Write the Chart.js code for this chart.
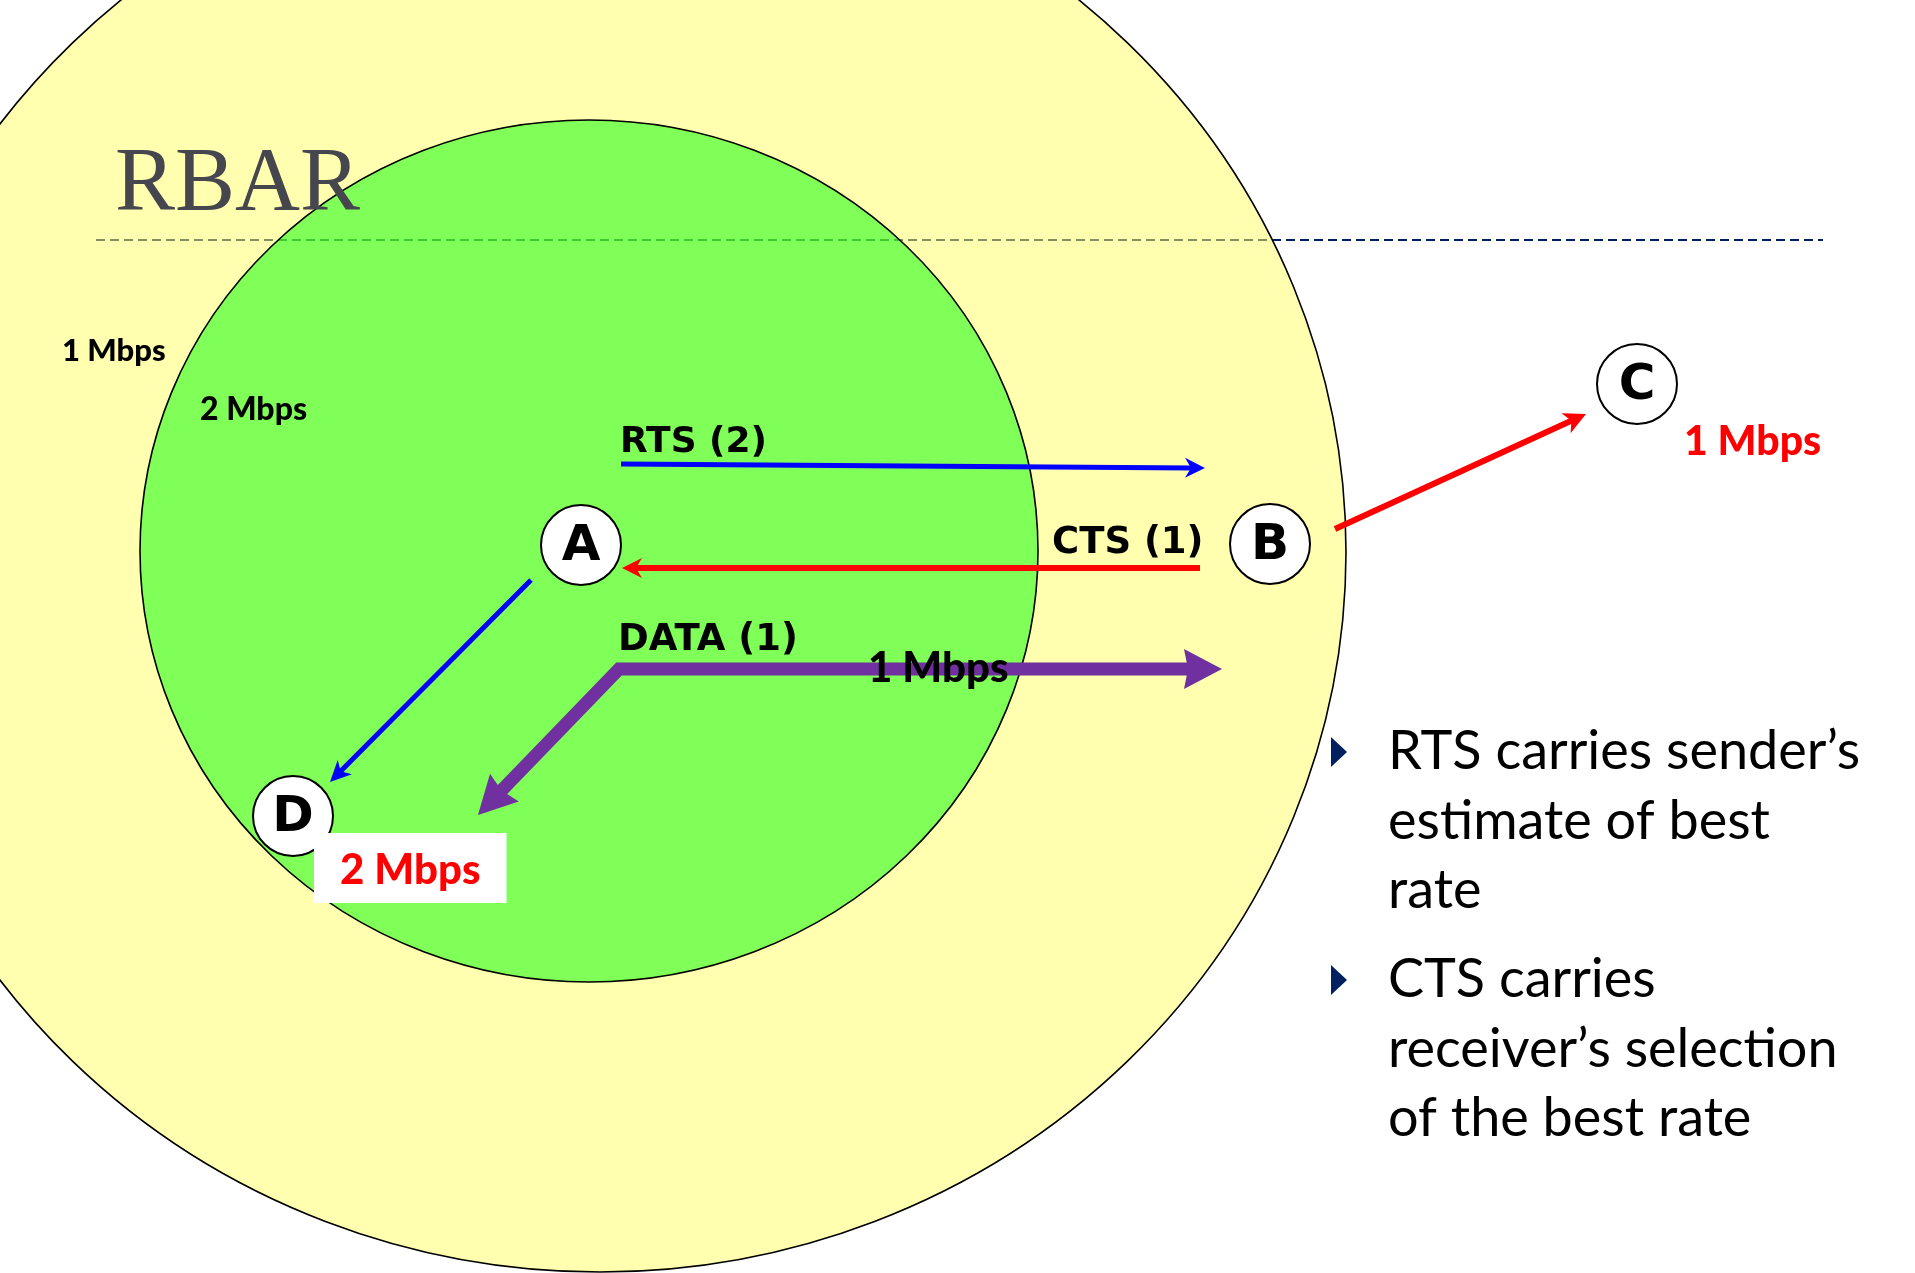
<!DOCTYPE html>
<html lang="en">
<head>
    <meta charset="UTF-8">
    <title>RBAR</title>
    <script src="https://cdn.jsdelivr.net/npm/chart.js"></script>
    <style>
        html, body { margin: 0; padding: 0; background: #fff; }
        #wrap { width: 1915px; height: 1273px; }
    </style>
</head>
<body>
<div id="wrap"><canvas id="rbarChart" width="1915" height="1273"></canvas></div>

<script>
    // ---- diagram data (units: 0..1915 across, 0..1273 down) ----
    const nodeNames = ['A', 'B', 'C', 'D'];
    const nodeX = [581, 1270, 1637, 293];
    const nodeY = [545, 544, 384, 816];

    // transmission ranges: [0] = 1 Mbps (outer), [1] = 2 Mbps (inner)
    const rangeCx = [600, 589];
    const rangeCy = [552, 551];
    const rangeRx = [746, 449];
    const rangeRy = [720, 431];

    // frames between nodes (first point -> tip)
    const rtsX = [621, 1205],  rtsY = [464, 468];
    const ctsX = [1200, 622],  ctsY = [568, 568];
    const adX = [531, 330],    adY = [580, 782];
    const bcX = [1335, 1586],  bcY = [529, 414];
    const dataX = [1222, 619, 478], dataY = [669, 669, 815];

    // annotations: text, left x, baseline y
    const labelText = ['1 Mbps', '2 Mbps', 'RTS (2)', 'CTS (1)', 'DATA (1)', '1 Mbps', '1 Mbps', '2 Mbps'];
    const labelX = [62, 200, 620, 1052, 618, 868, 1684, 340];
    const labelY = [361, 420, 452, 553, 650, 682, 455, 884];

    const titleText = 'RBAR';
    const dividerX = [96, 1823];
    const dividerY = 240;

    const bullets = [
        ['RTS carries sender\u2019s', 'estimate of best', 'rate'],
        ['CTS carries', 'receiver\u2019s selection', 'of the best rate']
    ];
    const bulletTop = [769, 997];

    // ---- styles ----
    const arrows = [
        { x: rtsX, y: rtsY, color: '#0000ff', width: 5, head: [20, 10, 6] },
        { x: ctsX, y: ctsY, color: '#ff0000', width: 6, head: [20, 10, 6] },
        { x: adX, y: adY, color: '#0000ff', width: 5, head: [21, 10, 6] },
        { x: bcX, y: bcY, color: '#ff0000', width: 6, head: [22, 11, 6] },
        { x: dataX, y: dataY, color: '#7030a0', width: 13, head: [38, 20, 4], both: true }
    ];
    const labelFont = [
        '900 31px Lato', '900 32px Lato',
        'bold 36px "DejaVu Sans"', 'bold 37px "DejaVu Sans"', 'bold 37px "DejaVu Sans"',
        '900 42px Lato', '900 41px Lato', '900 42px Lato'
    ];
    const labelColor = ['#000', '#000', '#000', '#000', '#000', '#000', '#ff0000', '#ff0000'];
    const rangeFill = ['rgba(255,255,95,0.5)', 'rgba(0,255,0,0.5)'];

    function headAt(ctx, tx, ty, fx, fy, head) {
        // arrow head with tip (tx,ty) coming from (fx,fy)
        const [len, half, notch] = head;
        const a = Math.atan2(ty - fy, tx - fx);
        const c = Math.cos(a), s = Math.sin(a);
        ctx.beginPath();
        ctx.moveTo(tx, ty);
        ctx.lineTo(tx - len * c - half * s, ty - len * s + half * c);
        ctx.lineTo(tx - (len - notch) * c, ty - (len - notch) * s);
        ctx.lineTo(tx - len * c + half * s, ty - len * s - half * c);
        ctx.closePath();
        ctx.fill();
    }

    function trim(tx, ty, fx, fy, d) {
        const a = Math.atan2(ty - fy, tx - fx);
        return [tx - d * Math.cos(a), ty - d * Math.sin(a)];
    }

    // ellipses + divider + title under the nodes
    const backdropPlugin = {
        id: 'backdrop',
        beforeDatasetsDraw(chart) {
            const ctx = chart.ctx;
            const xs = chart.scales.x, ys = chart.scales.y;
            ctx.save();

            // dashed rule under the title
            ctx.strokeStyle = '#002060';
            ctx.lineWidth = 2;
            ctx.setLineDash([9, 5]);
            ctx.beginPath();
            ctx.moveTo(xs.getPixelForValue(dividerX[0]), ys.getPixelForValue(dividerY));
            ctx.lineTo(xs.getPixelForValue(dividerX[1]), ys.getPixelForValue(dividerY));
            ctx.stroke();
            ctx.setLineDash([]);

            // range ellipses
            for (let i = 0; i < rangeCx.length; i++) {
                const cx = xs.getPixelForValue(rangeCx[i]);
                const cy = ys.getPixelForValue(rangeCy[i]);
                const rx = Math.abs(xs.getPixelForValue(rangeCx[i] + rangeRx[i]) - cx);
                const ry = Math.abs(ys.getPixelForValue(rangeCy[i] + rangeRy[i]) - cy);
                ctx.beginPath();
                ctx.ellipse(cx, cy, rx, ry, 0, 0, Math.PI * 2);
                ctx.fillStyle = rangeFill[i];
                ctx.fill();
                ctx.strokeStyle = '#000';
                ctx.lineWidth = 1.6;
                ctx.stroke();
            }

            // title
            ctx.fillStyle = '#46464f';
            ctx.font = '90px "Liberation Serif"';
            ctx.textBaseline = 'alphabetic';
            ctx.textAlign = 'left';
            ctx.fillText(titleText, 115, 210);
            ctx.restore();
        }
    };

    // arrows, labels and bullet text on top
    const overlayPlugin = {
        id: 'overlay',
        afterDatasetsDraw(chart) {
            const ctx = chart.ctx;
            const xs = chart.scales.x, ys = chart.scales.y;
            ctx.save();

            // node letters
            ctx.fillStyle = '#000';
            ctx.font = 'bold 50px "DejaVu Sans"';
            ctx.textAlign = 'center';
            ctx.textBaseline = 'middle';
            nodeNames.forEach((n, i) => {
                ctx.fillText(n, xs.getPixelForValue(nodeX[i]), ys.getPixelForValue(nodeY[i]) + 2);
            });

            // arrows
            arrows.forEach(ar => {
                const pts = ar.x.map((v, i) => [xs.getPixelForValue(v), ys.getPixelForValue(ar.y[i])]);
                const n = pts.length;
                const cut = ar.head[0] * 0.6;
                const end = trim(pts[n - 1][0], pts[n - 1][1], pts[n - 2][0], pts[n - 2][1], cut);
                const start = ar.both ? trim(pts[0][0], pts[0][1], pts[1][0], pts[1][1], cut) : pts[0];
                ctx.strokeStyle = ar.color;
                ctx.fillStyle = ar.color;
                ctx.lineWidth = ar.width;
                ctx.lineJoin = 'miter';
                ctx.lineCap = 'butt';
                ctx.beginPath();
                ctx.moveTo(start[0], start[1]);
                for (let i = 1; i < n - 1; i++) ctx.lineTo(pts[i][0], pts[i][1]);
                ctx.lineTo(end[0], end[1]);
                ctx.stroke();
                headAt(ctx, pts[n - 1][0], pts[n - 1][1], pts[n - 2][0], pts[n - 2][1], ar.head);
                if (ar.both) headAt(ctx, pts[0][0], pts[0][1], pts[1][0], pts[1][1], ar.head);
            });

            // labels
            ctx.textAlign = 'left';
            ctx.textBaseline = 'alphabetic';
            labelText.forEach((t, i) => {
                const x = xs.getPixelForValue(labelX[i]);
                const y = ys.getPixelForValue(labelY[i]);
                ctx.font = labelFont[i];
                if (i === labelText.length - 1) {
                    // white tag behind D's rate
                    const w = ctx.measureText(t).width;
                    ctx.fillStyle = '#fff';
                    ctx.fillRect(x - 26, y - 51, w + 52, 70);
                }
                ctx.fillStyle = labelColor[i];
                ctx.fillText(t, x, y);
            });

            // bullet list
            ctx.font = '54px Lato';
            bullets.forEach((lines, b) => {
                const top = bulletTop[b];
                ctx.fillStyle = '#002060';
                ctx.beginPath();
                ctx.moveTo(1331, top - 32);
                ctx.lineTo(1347, top - 17);
                ctx.lineTo(1331, top - 2);
                ctx.closePath();
                ctx.fill();
                ctx.fillStyle = '#000';
                lines.forEach((ln, k) => ctx.fillText(ln, 1388, top + k * 69.5));
            });
            ctx.restore();
        }
    };

    const ctx = document.getElementById('rbarChart').getContext('2d');
    const rbarChart = new Chart(ctx, {
        type: 'scatter',
        data: {
            datasets: [{
                label: 'nodes',
                data: nodeNames.map((n, i) => ({ x: nodeX[i], y: nodeY[i] })),
                pointRadius: 40,
                pointHoverRadius: 40,
                pointBackgroundColor: '#ffffff',
                pointBorderColor: '#000000',
                pointBorderWidth: 2
            }]
        },
        options: {
            responsive: false,
            animation: false,
            events: [],
            layout: { padding: 0, autoPadding: false },
            plugins: {
                legend: { display: false },
                tooltip: { enabled: false }
            },
            scales: {
                x: { type: 'linear', min: 0, max: 1915, display: false },
                y: { type: 'linear', min: 0, max: 1273, reverse: true, display: false }
            }
        },
        plugins: [backdropPlugin, overlayPlugin]
    });
</script>
</body>
</html>
